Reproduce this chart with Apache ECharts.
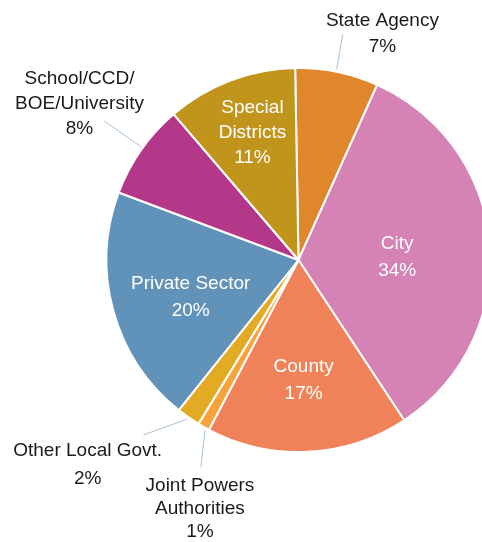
<!DOCTYPE html>
<html>
<head>
<meta charset="utf-8">
<script src="https://cdn.jsdelivr.net/npm/echarts@6/dist/echarts.min.js"></script>
<style>
  html, body { margin: 0; padding: 0; background: #ffffff; }
  #chart { width: 482px; height: 542px; }
</style>
</head>
<body>
<div id="chart"></div>
<script>
// Share of total by sector, listed clockwise from 12 o'clock
const categories = [
  'State Agency',
  'City',
  'County',
  'Joint Powers\nAuthorities',
  'Other Local Govt.',
  'Private Sector',
  'School/CCD/\nBOE/University',
  'Special\nDistricts'
];
const shares = [7, 34, 17, 1, 2, 20, 8, 11];

const sliceColors = ['#E0872B', '#D582B5', '#F0825A', '#F8A23C', '#E3AA23', '#6192BA', '#B3388A', '#C1951B'];

// Pie geometry
const CX = 298.5, CY = 260, R = 192, START = 91;

// Label placement, one entry per slice (same order as categories).
// Inside labels get a small nudge; outside labels sit at an offset from the
// rim point at the slice's mid angle, with a short leader line.
const placement = [
  { inside: false, lh: 26, at: [45.3, -37.8], line: [[-0.4, -2.6], [5.6, -37.6]] },
  { inside: true,  lh: 27, nudge: [0, 5.5] },
  { inside: true,  lh: 27, nudge: [0.3, 21.5] },
  { inside: false, lh: 23, at: [-3.7, 81.8], line: [[1.3, 3.0], [-2.7, 40.3]] },
  { inside: false, lh: 28, at: [-100.7, 47.3], line: [[-1.6, 2.0], [-45, 17.7]] },
  { inside: true,  lh: 27, nudge: [-12.4, 11.3] },
  { inside: false, lh: 25, at: [-61.7, -46.3], line: [[0.5, -2.5], [-36.9, -28.8]] },
  { inside: true,  lh: 25, nudge: [-10.9, -35] }
];

// Rim point at the middle of each slice, from the cumulative shares
const total = shares.reduce((a, b) => a + b, 0);
const rimAnchors = [];
{
  let acc = 0;
  const rot = (START - 90) * Math.PI / 180;
  shares.forEach(v => {
    const mid = (acc + v / 2) / total * Math.PI * 2 - rot;
    rimAnchors.push([CX + R * Math.sin(mid), CY - R * Math.cos(mid)]);
    acc += v;
  });
}

const FONT = '"Liberation Sans", Arial, Helvetica, sans-serif';

const seriesData = categories.map((name, i) => {
  const p = placement[i];
  return {
    name: name,
    value: shares[i],
    itemStyle: { color: sliceColors[i] },
    label: {
      position: p.inside ? 'inside' : 'outside',
      color: p.inside ? '#ffffff' : '#1a1a1a',
      lineHeight: p.lh
    },
    labelLine: { show: !p.inside }
  };
});

const chart = echarts.init(document.getElementById('chart'), null, { renderer: 'canvas' });

chart.setOption({
  animation: false,
  backgroundColor: '#ffffff',
  series: [{
    type: 'pie',
    center: [CX, CY],
    radius: R,
    startAngle: START,
    clockwise: true,
    avoidLabelOverlap: false,
    silent: true,
    itemStyle: { borderColor: '#ffffff', borderWidth: 2 },
    label: {
      show: true,
      formatter: '{b}\n{c}%',
      fontFamily: FONT,
      fontSize: 19,
      align: 'center'
    },
    labelLine: {
      show: true,
      length: 10,
      length2: 0,
      smooth: false,
      lineStyle: { color: '#A9C3DD', width: 1 }
    },
    labelLayout: function (params) {
      const p = placement[params.dataIndex];
      if (p.inside) {
        return { dx: p.nudge[0], dy: p.nudge[1] };
      }
      const a = rimAnchors[params.dataIndex];
      return {
        x: a[0] + p.at[0],
        y: a[1] + p.at[1],
        align: 'center',
        verticalAlign: 'middle',
        labelLinePoints: [
          [a[0] + p.line[0][0], a[1] + p.line[0][1]],
          [a[0] + p.line[1][0], a[1] + p.line[1][1]]
        ]
      };
    },
    data: seriesData
  }]
});
</script>
</body>
</html>
